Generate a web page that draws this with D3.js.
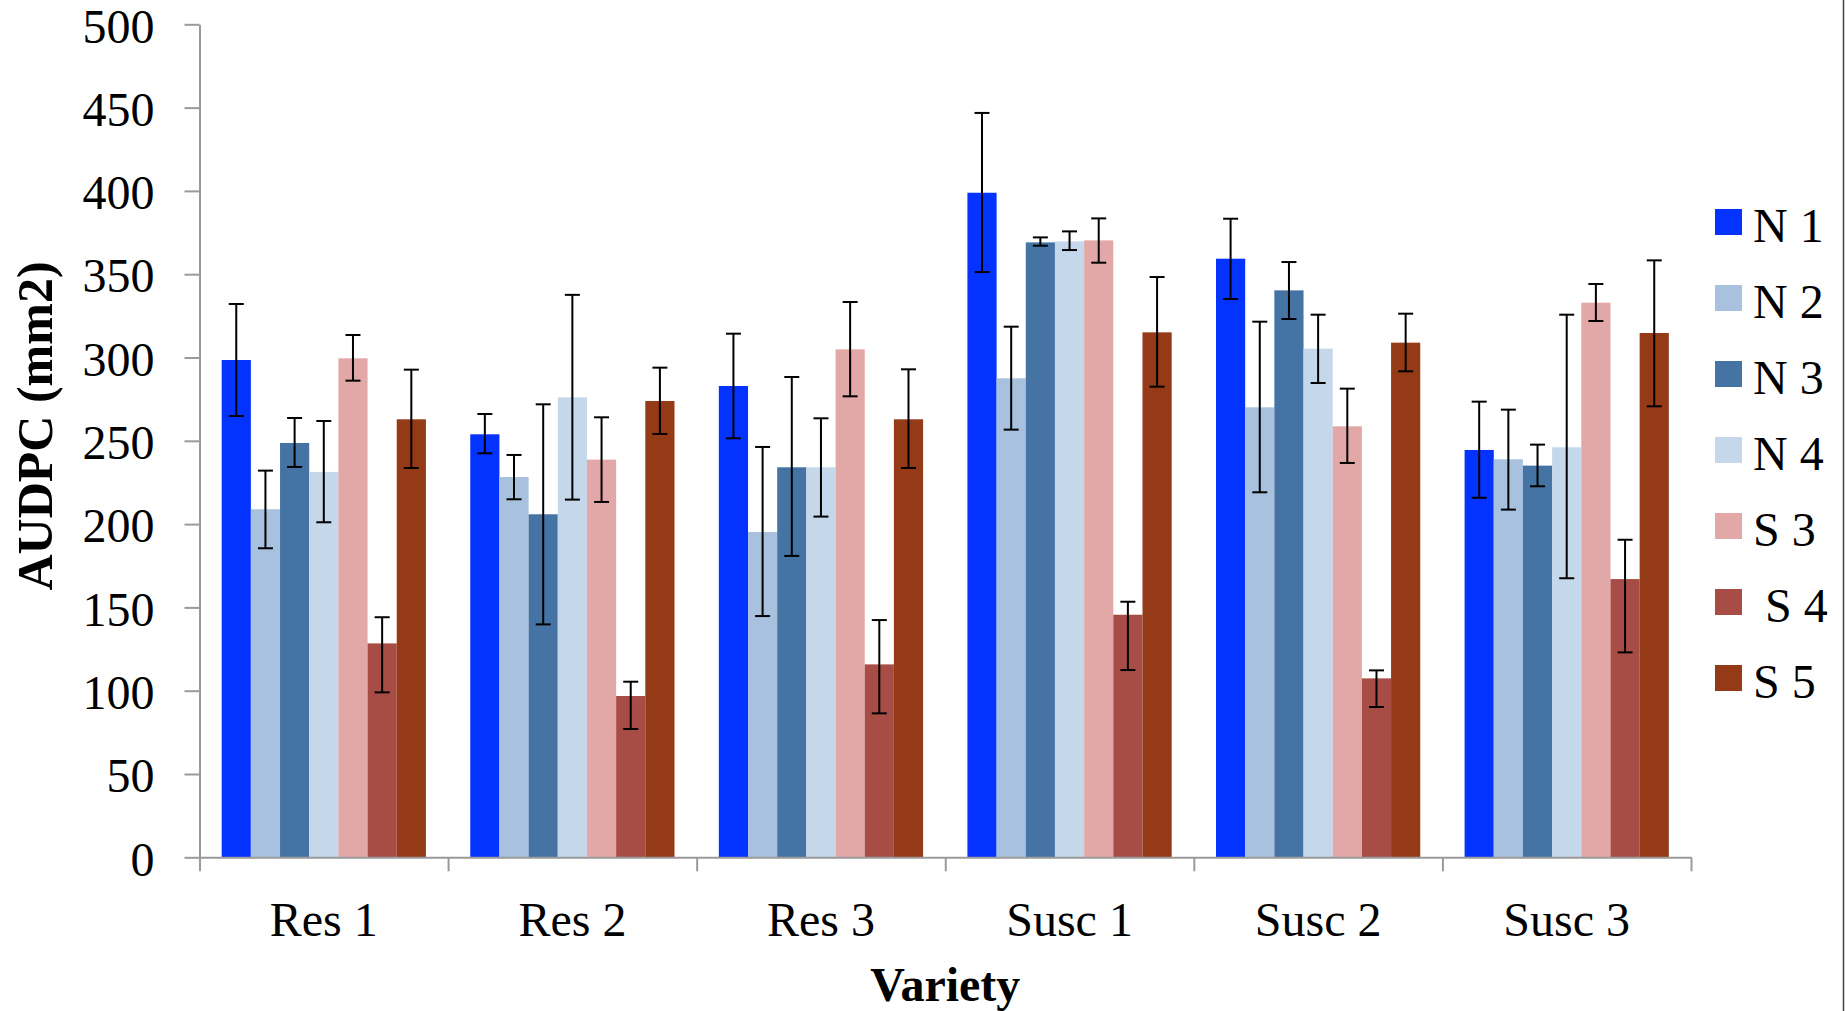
<!DOCTYPE html>
<html>
<head>
<meta charset="utf-8">
<script src="https://cdn.jsdelivr.net/npm/d3@7"></script>
<style>
  html, body { margin: 0; padding: 0; background: #ffffff; }
  svg { display: block; }
  text { font-family: "Liberation Serif", "Times New Roman", serif; fill: #000; }
</style>
</head>
<body>
<svg id="chart" width="1845" height="1011"></svg>
<script>
// ---- data ----
const categories = ["Res 1", "Res 2", "Res 3", "Susc 1", "Susc 2", "Susc 3"];
const seriesNames = ["N 1", "N 2", "N 3", "N 4", "S 3", " S 4", "S 5"];
const seriesColors = ["#0433FF", "#A7C1DF", "#4573A4", "#C5D7EB", "#E2A8A7", "#A84C46", "#943A16"];

const valN1 = [298.5, 253.9, 282.9, 398.9, 359.3, 244.5];
const valN2 = [208.9, 228.3, 195.3, 287.5, 270.1, 238.9];
const valN3 = [248.7, 205.9, 234.1, 369.1, 340.3, 235.1];
const valN4 = [231.3, 276.1, 234.1, 369.7, 305.3, 246.1];
const valS3 = [299.5, 238.7, 304.9, 370.3, 258.7, 332.9];
const valS4 = [128.4, 96.8, 115.8, 145.6, 107.4, 167.0];
const valS5 = [262.9, 273.9, 262.9, 315.1, 308.9, 314.7];

const hiN1 = [332.1, 266.1, 314.3, 446.8, 383.3, 273.5];
const hiN2 = [232.1, 241.5, 246.3, 318.5, 321.5, 268.7];
const hiN3 = [263.7, 271.9, 288.3, 372.1, 357.3, 247.7];
const hiN4 = [261.9, 337.6, 263.5, 375.7, 325.7, 325.7];
const hiS3 = [313.5, 264.1, 333.3, 383.5, 281.3, 344.1];
const hiS4 = [144.1, 105.4, 142.4, 153.4, 112.2, 190.6];
const hiS5 = [292.7, 293.9, 292.9, 348.3, 326.3, 358.3];

const loN1 = [264.9, 242.5, 251.5, 351.3, 335.1, 215.8];
const loN2 = [185.5, 214.9, 144.8, 256.7, 219.1, 208.7];
const loN3 = [234.3, 139.8, 180.9, 367.1, 323.1, 222.7];
const loN4 = [201.1, 214.7, 204.5, 364.5, 284.7, 167.5];
const loS3 = [286.1, 213.3, 276.7, 356.9, 236.7, 321.9];
const loS4 = [99.0, 77.0, 86.4, 112.4, 90.2, 123.0];
const loS5 = [233.7, 254.1, 233.7, 282.5, 291.7, 270.7];

const yTicks = [0, 50, 100, 150, 200, 250, 300, 350, 400, 450, 500];
const yTitle = "AUDPC (mm2)";
const xTitle = "Variety";

const values = [valN1, valN2, valN3, valN4, valS3, valS4, valS5];
const highs = [hiN1, hiN2, hiN3, hiN4, hiS3, hiS4, hiS5];
const lows = [loN1, loN2, loN3, loN4, loS3, loS4, loS5];

// ---- layout ----
const svg = d3.select("#chart");
const plotLeft = 199.5, plotRight = 1691, plotTop = 24.3, plotBottom = 857.3;

const y = d3.scaleLinear().domain([0, 500]).range([plotBottom, plotTop]);
const x0 = d3.scaleBand().domain(categories).range([plotLeft, plotRight]).padding(0);
const x1 = d3.scaleBand().domain(seriesNames).range([0, x0.bandwidth()]).paddingInner(0).paddingOuter(0.76);
const color = d3.scaleOrdinal().domain(seriesNames).range(seriesColors);

const records = [];
seriesNames.forEach((s, si) => {
  categories.forEach((c, ci) => {
    records.push({ s, c, v: values[si][ci], hi: highs[si][ci], lo: lows[si][ci] });
  });
});

// bars
svg.append("g").selectAll("rect").data(records).join("rect")
  .attr("x", d => x0(d.c) + x1(d.s))
  .attr("y", d => y(d.v))
  .attr("width", x1.bandwidth())
  .attr("height", d => y(0) - y(d.v))
  .attr("fill", d => color(d.s));

// error bars
const eb = svg.append("g").attr("stroke", "#000").attr("stroke-width", 2).attr("fill", "none");
const cx = d => x0(d.c) + x1(d.s) + x1.bandwidth() / 2;
eb.selectAll("line.v").data(records).join("line").attr("class", "v")
  .attr("x1", cx).attr("x2", cx)
  .attr("y1", d => y(d.hi)).attr("y2", d => y(d.lo));
eb.selectAll("line.t").data(records).join("line").attr("class", "t")
  .attr("x1", d => cx(d) - 7.5).attr("x2", d => cx(d) + 7.5)
  .attr("y1", d => y(d.hi)).attr("y2", d => y(d.hi));
eb.selectAll("line.b").data(records).join("line").attr("class", "b")
  .attr("x1", d => cx(d) - 7.5).attr("x2", d => cx(d) + 7.5)
  .attr("y1", d => y(d.lo)).attr("y2", d => y(d.lo));

// y axis
const yAxis = svg.append("g").attr("transform", `translate(${plotLeft},0)`)
  .call(d3.axisLeft(y).tickValues(yTicks).tickSize(15).tickSizeOuter(0).tickPadding(30));
yAxis.selectAll("path, line").attr("stroke", "#9a9a9a").attr("stroke-width", 2);
yAxis.selectAll("text").attr("font-size", 48).attr("dy", "0.37em")
  .style("font-family", "'Liberation Serif', serif").attr("fill", "#000");

// x axis: boundary ticks
const xb = d3.scaleLinear().domain([0, categories.length]).range([plotLeft, plotRight]);
const xAxisB = svg.append("g").attr("transform", `translate(0,${plotBottom})`)
  .call(d3.axisBottom(xb).ticks(categories.length).tickValues(d3.range(categories.length + 1))
    .tickFormat("").tickSize(14).tickSizeOuter(0));
xAxisB.selectAll("path, line").attr("stroke", "#9a9a9a").attr("stroke-width", 2);

// x axis: category labels
const xAxisL = svg.append("g").attr("transform", `translate(0,${plotBottom})`)
  .call(d3.axisBottom(x0).tickSize(0).tickPadding(45));
xAxisL.select(".domain").remove();
xAxisL.selectAll("text").attr("font-size", 48)
  .style("font-family", "'Liberation Serif', serif").attr("fill", "#000");

// axis titles
svg.append("text")
  .attr("transform", `translate(52,426) rotate(-90)`)
  .attr("text-anchor", "middle")
  .attr("font-size", 50).attr("font-weight", "bold")
  .text(yTitle);
svg.append("text")
  .attr("x", (plotLeft + plotRight) / 2).attr("y", 1001)
  .attr("text-anchor", "middle")
  .attr("font-size", 48).attr("font-weight", "bold")
  .text(xTitle);

// legend
const legend = svg.append("g").attr("transform", "translate(1715,209)");
const lg = legend.selectAll("g").data(seriesNames).join("g")
  .attr("transform", (d, i) => `translate(0,${i * 76})`);
lg.append("rect").attr("width", 27).attr("height", 26).attr("fill", d => color(d));
lg.append("text").attr("x", 38).attr("y", 32.5).attr("font-size", 48)
  .style("white-space", "pre").attr("xml:space", "preserve")
  .text(d => d);

// right frame edge
svg.append("line").attr("x1", 1843.5).attr("x2", 1843.5).attr("y1", 0).attr("y2", 1011)
  .attr("stroke", "#444").attr("stroke-width", 1.5);
</script>
</body>
</html>
